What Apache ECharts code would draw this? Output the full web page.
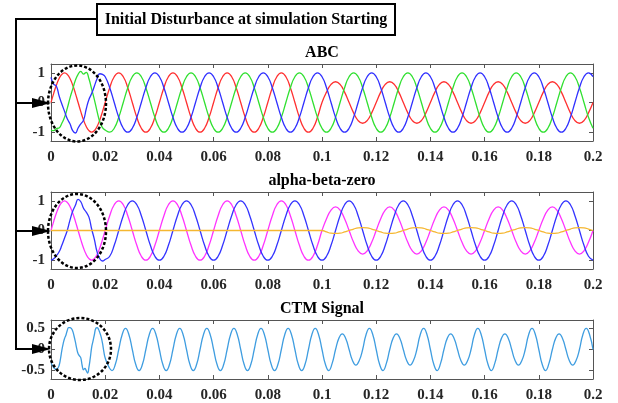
<!DOCTYPE html>
<html>
<head>
<meta charset="utf-8">
<script src="https://cdn.jsdelivr.net/npm/echarts@6/dist/echarts.min.js"></script>
<style>
  html, body { margin: 0; padding: 0; background: #fff; }
  #chart { width: 618px; height: 403px; }
</style>
</head>
<body>
<div id="chart"></div>
<script>
// sample times: 1 ms steps through the start-up disturbance, then 1/12 of a 50 Hz cycle
const abcTime = []
for (let i = 0; i <= 20; i++) abcTime.push(i / 1000)
for (let j = 1; j <= 108; j++) abcTime.push(0.02 + j / 600)

// CTM signal: 0.5 ms steps at the start, then 1/8 of a 100 Hz cycle
const ctmTime = []
for (let i = 0; i <= 40; i++) ctmTime.push(i / 2000)
for (let j = 1; j <= 144; j++) ctmTime.push(0.02 + j * 0.00125)

// ---- ABC ----
const redStart = [0, 0.31, 0.59, 0.81, 0.95, 1, 0.95, 0.81, 0.59, 0.31, 0, -0.31, -0.59, -0.81, -0.95, -1, -0.95, -0.81, -0.59, -0.31, 0]
const greenStart = [-0.93, -0.95, -0.88, -0.86, -0.7, -0.5, -0.2, 0.15, 0.45, 0.75, 0.95, 1.05, 0.96, 1.02, 0.8, 0.45, 0.1, -0.3, -0.65, -0.85, -0.93]
const blueStart = [0.85, 0.62, 0.55, 0.22, -0.05, -0.3, -0.55, -0.72, -0.95, -1.03, -0.86, -0.72, -0.6, -0.22, 0.1, 0.3, 0.55, 0.8, 0.97, 0.95, 0.87]

const redSteady = [
  0.5, 0.87, 1, 0.87, 0.5, 0, -0.5, -0.87, -1, -0.87, -0.5, 0,
  0.5, 0.87, 1, 0.87, 0.5, 0, -0.5, -0.87, -1, -0.87, -0.5, 0,
  0.5, 0.87, 1, 0.87, 0.5, 0, -0.5, -0.87, -1, -0.87, -0.5, 0,
  0.5, 0.87, 1, 0.87, 0.5, 0, -0.5, -0.87, -1, -0.87, -0.5, 0,
  0.35, 0.61, 0.7, 0.61, 0.35, 0, -0.35, -0.61, -0.7, -0.61, -0.35, 0,
  0.35, 0.61, 0.7, 0.61, 0.35, 0, -0.35, -0.61, -0.7, -0.61, -0.35, 0,
  0.35, 0.61, 0.7, 0.61, 0.35, 0, -0.35, -0.61, -0.7, -0.61, -0.35, 0,
  0.35, 0.61, 0.7, 0.61, 0.35, 0, -0.35, -0.61, -0.7, -0.61, -0.35, 0,
  0.35, 0.61, 0.7, 0.61, 0.35, 0, -0.35, -0.61, -0.7, -0.61, -0.35, 0
]
const greenSteady = [
  -1, -0.87, -0.5, 0, 0.5, 0.87, 1, 0.87, 0.5, 0, -0.5, -0.87,
  -1, -0.87, -0.5, 0, 0.5, 0.87, 1, 0.87, 0.5, 0, -0.5, -0.87,
  -1, -0.87, -0.5, 0, 0.5, 0.87, 1, 0.87, 0.5, 0, -0.5, -0.87,
  -1, -0.87, -0.5, 0, 0.5, 0.87, 1, 0.87, 0.5, 0, -0.5, -0.87,
  -1, -0.87, -0.5, 0, 0.5, 0.87, 1, 0.87, 0.5, 0, -0.5, -0.87,
  -1, -0.87, -0.5, 0, 0.5, 0.87, 1, 0.87, 0.5, 0, -0.5, -0.87,
  -1, -0.87, -0.5, 0, 0.5, 0.87, 1, 0.87, 0.5, 0, -0.5, -0.87,
  -1, -0.87, -0.5, 0, 0.5, 0.87, 1, 0.87, 0.5, 0, -0.5, -0.87,
  -1, -0.87, -0.5, 0, 0.5, 0.87, 1, 0.87, 0.5, 0, -0.5, -0.87
]
const blueSteady = [
  0.5, 0, -0.5, -0.87, -1, -0.87, -0.5, 0, 0.5, 0.87, 1, 0.87,
  0.5, 0, -0.5, -0.87, -1, -0.87, -0.5, 0, 0.5, 0.87, 1, 0.87,
  0.5, 0, -0.5, -0.87, -1, -0.87, -0.5, 0, 0.5, 0.87, 1, 0.87,
  0.5, 0, -0.5, -0.87, -1, -0.87, -0.5, 0, 0.5, 0.87, 1, 0.87,
  0.5, 0, -0.5, -0.87, -1, -0.87, -0.5, 0, 0.5, 0.87, 1, 0.87,
  0.5, 0, -0.5, -0.87, -1, -0.87, -0.5, 0, 0.5, 0.87, 1, 0.87,
  0.5, 0, -0.5, -0.87, -1, -0.87, -0.5, 0, 0.5, 0.87, 1, 0.87,
  0.5, 0, -0.5, -0.87, -1, -0.87, -0.5, 0, 0.5, 0.87, 1, 0.87,
  0.5, 0, -0.5, -0.87, -1, -0.87, -0.5, 0, 0.5, 0.87, 1, 0.87
]

// ---- alpha-beta-zero ----
const alphaStart = [0, 0.31, 0.59, 0.81, 0.95, 1, 0.95, 0.81, 0.59, 0.31, 0, -0.31, -0.59, -0.81, -0.95, -1, -0.95, -0.81, -0.59, -0.31, 0]
const betaStart = [-1, -0.95, -0.85, -0.72, -0.5, -0.25, 0, 0.35, 0.65, 0.85, 1.05, 0.97, 0.75, 0.62, 0.45, 0.05, -0.3, -0.72, -0.95, -1.03, -0.98]
const zeroStart = [0, 0, 0, 0, 0, 0, 0, 0, 0, 0, 0, 0, 0, 0, 0, 0, 0, 0, 0, 0, 0]

const alphaSteady = [
  0.5, 0.87, 1, 0.87, 0.5, 0, -0.5, -0.87, -1, -0.87, -0.5, 0,
  0.5, 0.87, 1, 0.87, 0.5, 0, -0.5, -0.87, -1, -0.87, -0.5, 0,
  0.5, 0.87, 1, 0.87, 0.5, 0, -0.5, -0.87, -1, -0.87, -0.5, 0,
  0.5, 0.87, 1, 0.87, 0.5, 0, -0.5, -0.87, -1, -0.87, -0.5, 0,
  0.4, 0.69, 0.8, 0.69, 0.4, 0, -0.4, -0.69, -0.8, -0.69, -0.4, 0,
  0.4, 0.69, 0.8, 0.69, 0.4, 0, -0.4, -0.69, -0.8, -0.69, -0.4, 0,
  0.4, 0.69, 0.8, 0.69, 0.4, 0, -0.4, -0.69, -0.8, -0.69, -0.4, 0,
  0.4, 0.69, 0.8, 0.69, 0.4, 0, -0.4, -0.69, -0.8, -0.69, -0.4, 0,
  0.4, 0.69, 0.8, 0.69, 0.4, 0, -0.4, -0.69, -0.8, -0.69, -0.4, 0
]
const betaSteady = [
  -0.87, -0.5, 0, 0.5, 0.87, 1, 0.87, 0.5, 0, -0.5, -0.87, -1,
  -0.87, -0.5, 0, 0.5, 0.87, 1, 0.87, 0.5, 0, -0.5, -0.87, -1,
  -0.87, -0.5, 0, 0.5, 0.87, 1, 0.87, 0.5, 0, -0.5, -0.87, -1,
  -0.87, -0.5, 0, 0.5, 0.87, 1, 0.87, 0.5, 0, -0.5, -0.87, -1,
  -0.87, -0.5, 0, 0.5, 0.87, 1, 0.87, 0.5, 0, -0.5, -0.87, -1,
  -0.87, -0.5, 0, 0.5, 0.87, 1, 0.87, 0.5, 0, -0.5, -0.87, -1,
  -0.87, -0.5, 0, 0.5, 0.87, 1, 0.87, 0.5, 0, -0.5, -0.87, -1,
  -0.87, -0.5, 0, 0.5, 0.87, 1, 0.87, 0.5, 0, -0.5, -0.87, -1,
  -0.87, -0.5, 0, 0.5, 0.87, 1, 0.87, 0.5, 0, -0.5, -0.87, -1
]
const zeroSteady = [
  0, 0, 0, 0, 0, 0, 0, 0, 0, 0, 0, 0,
  0, 0, 0, 0, 0, 0, 0, 0, 0, 0, 0, 0,
  0, 0, 0, 0, 0, 0, 0, 0, 0, 0, 0, 0,
  0, 0, 0, 0, 0, 0, 0, 0, 0, 0, 0, 0,
  -0.05, -0.09, -0.1, -0.09, -0.05, 0, 0.05, 0.09, 0.1, 0.09, 0.05, 0,
  -0.05, -0.09, -0.1, -0.09, -0.05, 0, 0.05, 0.09, 0.1, 0.09, 0.05, 0,
  -0.05, -0.09, -0.1, -0.09, -0.05, 0, 0.05, 0.09, 0.1, 0.09, 0.05, 0,
  -0.05, -0.09, -0.1, -0.09, -0.05, 0, 0.05, 0.09, 0.1, 0.09, 0.05, 0,
  -0.05, -0.09, -0.1, -0.09, -0.05, 0, 0.05, 0.09, 0.1, 0.09, 0.05, 0
]

// ---- CTM signal ----
const ctmStart = [
  -0.3, -0.38, -0.43, -0.46, -0.47, -0.45, -0.38, -0.22, -0.02, 0.14,
  0.26, 0.34, 0.45, 0.52, 0.52, 0.5, 0.44, 0.32, 0.18, 0.02,
  -0.1, -0.15, -0.2, -0.38, -0.48, -0.45, -0.5, -0.56, -0.42, -0.2,
  0.05, 0.2, 0.35, 0.5, 0.52, 0.48, 0.4, 0.3, 0.15, -0.05, -0.2
]
const ctmSteady = [
  -0.4, -0.5, -0.35, 0, 0.35, 0.5, 0.35, 0,
  -0.35, -0.5, -0.35, 0, 0.35, 0.5, 0.35, 0,
  -0.35, -0.5, -0.35, 0, 0.35, 0.5, 0.35, 0,
  -0.35, -0.5, -0.35, 0, 0.35, 0.5, 0.35, 0,
  -0.35, -0.5, -0.35, 0, 0.35, 0.5, 0.35, 0,
  -0.35, -0.5, -0.35, 0, 0.35, 0.5, 0.35, 0,
  -0.35, -0.5, -0.35, 0, 0.35, 0.5, 0.35, 0,
  -0.35, -0.5, -0.35, 0, 0.35, 0.5, 0.35, 0,
  -0.35, -0.5, -0.33, 0, 0.27, 0.37, 0.26, 0, -0.26, -0.37, -0.26, 0, 0.35, 0.5, 0.35, 0,
  -0.35, -0.5, -0.33, 0, 0.27, 0.37, 0.26, 0, -0.26, -0.37, -0.26, 0, 0.35, 0.5, 0.35, 0,
  -0.35, -0.5, -0.33, 0, 0.27, 0.37, 0.26, 0, -0.26, -0.37, -0.26, 0, 0.35, 0.5, 0.35, 0,
  -0.35, -0.5, -0.33, 0, 0.27, 0.37, 0.26, 0, -0.26, -0.37, -0.26, 0, 0.35, 0.5, 0.35, 0,
  -0.35, -0.5, -0.33, 0, 0.27, 0.37, 0.26, 0, -0.26, -0.37, -0.26, 0, 0.35, 0.5, 0.35, 0
]

const xTicks = [0, 0.02, 0.04, 0.06, 0.08, 0.1, 0.12, 0.14, 0.16, 0.18, 0.2]
const yTicksUnit = [-1, 0, 1]
const yTicksCtm = [-0.5, 0, 0.5]
const titles = ['ABC', 'alpha-beta-zero', 'CTM Signal']

const pairs = (t, v) => t.map((x, i) => [x, v[i]])

const FONT = 'Liberation Serif'
const FRAME = '#555'
const labelStyle = {fontFamily: FONT, fontWeight: 'bold', fontSize: 15, color: '#262626'}

const grids = [
  {left: 51, top: 64, width: 542, height: 77, ymin: -1.3, ymax: 1.3, ticks: yTicksUnit},
  {left: 51, top: 192, width: 542, height: 77, ymin: -1.3, ymax: 1.3, ticks: yTicksUnit},
  {left: 51, top: 320, width: 542, height: 59, ymin: -0.7, ymax: 0.7, ticks: yTicksCtm}
]

const xAxes = []
const yAxes = []
grids.forEach((g, gi) => {
  ['bottom', 'top'].forEach(pos => {
    xAxes.push({
      gridIndex: gi, type: 'value', min: 0, max: 0.2, position: pos,
      axisLine: {show: true, onZero: false, lineStyle: {color: FRAME, width: 1}},
      axisTick: {show: true, inside: true, length: 4, customValues: xTicks, lineStyle: {color: FRAME}},
      axisLabel: Object.assign({show: pos === 'bottom', margin: 9, customValues: xTicks,
        formatter: v => String(+(+v).toFixed(2))}, labelStyle),
      splitLine: {show: false}
    })
  })
  ;['left', 'right'].forEach(pos => {
    yAxes.push({
      gridIndex: gi, type: 'value', min: g.ymin, max: g.ymax, position: pos,
      axisLine: {show: true, onZero: false, lineStyle: {color: FRAME, width: 1}},
      axisTick: {show: true, inside: true, length: 4, customValues: g.ticks, lineStyle: {color: FRAME}},
      axisLabel: Object.assign({show: pos === 'left', margin: 6, customValues: g.ticks}, labelStyle),
      splitLine: {show: false}
    })
  })
})

const line = (name, gi, t, v, color) => ({
  name, type: 'line', xAxisIndex: gi * 2, yAxisIndex: gi * 2,
  data: pairs(t, v), showSymbol: false, smooth: 0.5,
  lineStyle: {color, width: 1.3}, itemStyle: {color}
})

const chart = echarts.init(document.getElementById('chart'))

const dashed = {fill: null, stroke: '#000', lineWidth: 2.5, lineDash: [3, 2]}
const solid = {stroke: '#000', lineWidth: 2}

chart.setOption({
  animation: false,
  backgroundColor: '#fff',
  title: titles.map((text, i) => ({
    text, left: 322, top: [45, 173, 301][i], textAlign: 'center', padding: 0,
    textStyle: {fontFamily: FONT, fontWeight: 'bold', fontSize: 16, color: '#000'}
  })),
  grid: grids.map(g => ({left: g.left, top: g.top, width: g.width, height: g.height, containLabel: false, outerBoundsMode: 'none'})),
  xAxis: xAxes,
  yAxis: yAxes,
  series: [
    line('A', 0, abcTime, redStart.concat(redSteady), '#ff3030'),
    line('B', 0, abcTime, greenStart.concat(greenSteady), '#30e030'),
    line('C', 0, abcTime, blueStart.concat(blueSteady), '#3030ff'),
    line('alpha', 1, abcTime, alphaStart.concat(alphaSteady), '#ff33ff'),
    line('beta', 1, abcTime, betaStart.concat(betaSteady), '#3333ff'),
    line('zero', 1, abcTime, zeroStart.concat(zeroSteady), '#f5b731'),
    line('CTM', 2, ctmTime, ctmStart.concat(ctmSteady), '#3f9de0')
  ],
  graphic: [
    {type: 'polyline', z: 100, shape: {points: [[97, 19], [16, 19], [16, 349], [34, 349]]}, style: Object.assign({fill: null}, solid)},
    {type: 'line', z: 100, shape: {x1: 16, y1: 103, x2: 34, y2: 103}, style: solid},
    {type: 'line', z: 100, shape: {x1: 16, y1: 231, x2: 34, y2: 231}, style: solid},
    {type: 'polygon', z: 101, shape: {points: [[32, 98], [51, 103], [32, 108]]}, style: {fill: '#000'}},
    {type: 'polygon', z: 101, shape: {points: [[32, 226], [51, 231], [32, 236]]}, style: {fill: '#000'}},
    {type: 'polygon', z: 101, shape: {points: [[32, 344], [51, 349], [32, 354]]}, style: {fill: '#000'}},
    {type: 'rect', z: 100, shape: {x: 97, y: 4, width: 298, height: 31}, style: {fill: '#fff', stroke: '#000', lineWidth: 2}},
    {type: 'text', z: 101, x: 246, y: 20, style: {
      text: 'Initial Disturbance at simulation Starting', fill: '#000',
      fontFamily: FONT, fontWeight: 'bold', fontSize: 16,
      align: 'center', verticalAlign: 'middle', textAlign: 'center', textVerticalAlign: 'middle'
    }},
    {type: 'ellipse', z: 102, shape: {cx: 77, cy: 103.5, rx: 29, ry: 38}, style: dashed},
    {type: 'ellipse', z: 102, shape: {cx: 77, cy: 231, rx: 29, ry: 37}, style: dashed},
    {type: 'ellipse', z: 102, shape: {cx: 80, cy: 349, rx: 31, ry: 31}, style: dashed}
  ]
})
</script>
</body>
</html>
